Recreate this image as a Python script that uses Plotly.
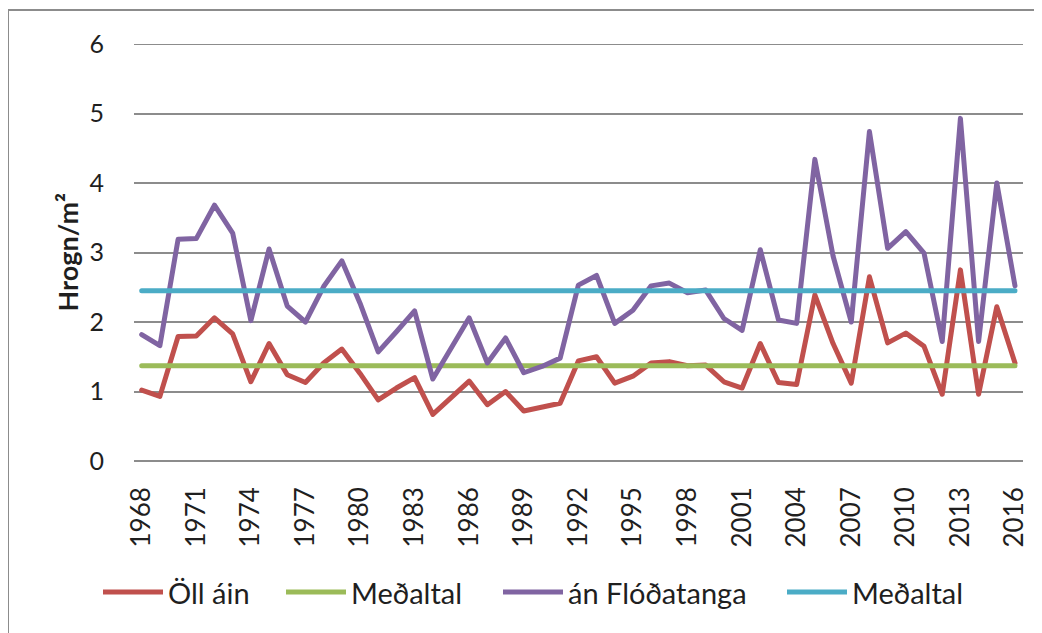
import plotly.graph_objects as go

years = list(range(1968, 2017))
oll_ain = [1.02, 0.93, 1.79, 1.80, 2.06, 1.83, 1.14, 1.69, 1.24, 1.13,
           1.41, 1.61, 1.26, 0.88, 1.05, 1.20, 0.67, 0.91, 1.15, 0.81,
           1.00, 0.72, 0.77, 0.83, 1.44, 1.50, 1.12, 1.22, 1.41, 1.43,
           1.37, 1.38, 1.14, 1.05, 1.69, 1.13, 1.10, 2.39, 1.69, 1.12,
           2.65, 1.70, 1.84, 1.65, 0.96, 2.75, 0.96, 2.22, 1.41]
an_flodatanga = [1.82, 1.66, 3.19, 3.20, 3.68, 3.28, 2.02, 3.05, 2.23, 2.00,
                 2.51, 2.88, 2.27, 1.57, 1.86, 2.16, 1.18, 1.62, 2.06, 1.41,
                 1.77, 1.27, 1.36, 1.48, 2.53, 2.67, 1.98, 2.17, 2.52, 2.56,
                 2.42, 2.46, 2.05, 1.88, 3.04, 2.03, 1.98, 4.34, 2.95, 2.00,
                 4.74, 3.06, 3.30, 2.99, 1.72, 4.93, 1.72, 4.00, 2.52]
mean_oll = 1.37
mean_flo = 2.45
series_names = ["Öll áin", "Meðaltal", "án Flóðatanga", "Meðaltal"]
colors = ["#C0504D", "#9BBB59", "#8064A2", "#4BACC6"]
y_ticks = [0, 1, 2, 3, 4, 5, 6]
y_title = "Hrogn/m²"

# the page body has an 8px default margin; work in page pixel coordinates
OFF = 8
W, H = 1042 - OFF, 633 - OFF
L, R, T, B = 134 - OFF, 19, 44 - OFF, 633 - 461
pw, ph = W - L - R, H - T - B
FONT = "Lato"
TXT = "#1f1f1f"


def px_x(x):
    return (x - OFF - L) / pw


def px_y(y):
    return (H - B - (y - OFF)) / ph


fig = go.Figure()
fig.add_trace(go.Scatter(x=years, y=oll_ain, mode="lines", name=series_names[0],
                         line=dict(color=colors[0], width=5)))
fig.add_trace(go.Scatter(x=years, y=[mean_oll] * len(years), mode="lines", name=series_names[1],
                         line=dict(color=colors[1], width=5)))
fig.add_trace(go.Scatter(x=years, y=an_flodatanga, mode="lines", name=series_names[2],
                         line=dict(color=colors[2], width=5)))
fig.add_trace(go.Scatter(x=years, y=[mean_flo] * len(years), mode="lines", name=series_names[3],
                         line=dict(color=colors[3], width=5)))

shapes = []
annotations = []
# outer chart border
shapes.append(dict(type="rect", xref="paper", yref="paper",
                   x0=px_x(8), x1=px_x(1060), y0=px_y(660), y1=px_y(10),
                   line=dict(color="#8c8c8c", width=2), layer="below"))
# top gridline (at the range edge)
shapes.append(dict(type="line", xref="paper", yref="y", x0=0, x1=1, y0=6, y1=6,
                   line=dict(color="#8c8c8c", width=2), layer="below"))

# manual legend
leg_y = px_y(592)
line_starts = [103, 286, 503, 787]
for name, col, xs in zip(series_names, colors, line_starts):
    shapes.append(dict(type="line", xref="paper", yref="paper",
                       x0=px_x(xs), x1=px_x(xs + 60), y0=leg_y, y1=leg_y,
                       line=dict(color=col, width=5)))
    annotations.append(dict(xref="paper", yref="paper", x=px_x(xs + 63), y=leg_y,
                            xanchor="left", yanchor="middle", showarrow=False,
                            text=name, font=dict(family=FONT, size=29, color=TXT)))

annotations.append(dict(xref="paper", yref="paper", x=px_x(67), y=0.5,
                        xanchor="center", yanchor="middle", showarrow=False,
                        textangle=-90, text="<b>" + y_title + "</b>",
                        font=dict(family=FONT, size=27, color=TXT)))

fig.update_layout(
    width=W, height=H,
    margin=dict(l=L, r=R, t=T, b=B, pad=0),
    paper_bgcolor="white", plot_bgcolor="white",
    showlegend=False,
    shapes=shapes, annotations=annotations,
    xaxis=dict(range=[1967.577, 2016.44], tickmode="linear", tick0=1968, dtick=3,
               tickangle=-90, showgrid=False, zeroline=False, showline=False,
               ticks="", ticklabelstandoff=20,
               tickfont=dict(family=FONT, size=26, color=TXT)),
    yaxis=dict(range=[0, 6], tickvals=y_ticks, showgrid=True, gridcolor="#8c8c8c",
               gridwidth=2, zeroline=True, zerolinecolor="#8c8c8c", zerolinewidth=2,
               showline=False, ticks="", ticklabelstandoff=29,
               tickfont=dict(family=FONT, size=25, color=TXT)),
)

round_joins = (
    "document.querySelectorAll('.scatterlayer path.js-line').forEach(function(p){"
    "p.style.strokeLinejoin='round';p.style.strokeLinecap='round';});"
)
fig.write_html("out.html", post_script=round_joins)
